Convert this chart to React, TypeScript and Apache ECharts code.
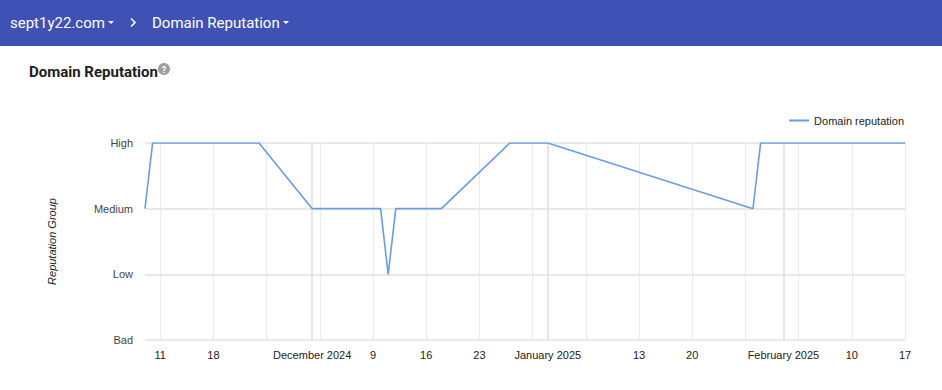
import React, { useEffect, useRef } from "react";
import * as echarts from "echarts";

const levelNames = ["Bad", "Low", "Medium", "High"];

const reputationDates = [
  "2024-11-09", "2024-11-10", "2024-11-24", "2024-12-01", "2024-12-10",
  "2024-12-11", "2024-12-12", "2024-12-18", "2024-12-27", "2025-01-01",
  "2025-01-28", "2025-01-29", "2025-02-17",
];
const reputationLevels = [
  "Medium", "High", "High", "Medium", "Medium",
  "Low", "Medium", "Medium", "High", "High",
  "Medium", "High", "High",
];

const axisStart = "2024-11-09";
const axisEnd = "2025-02-17";

const labelDates = [
  "2024-11-11", "2024-11-18", "2024-12-01", "2024-12-09", "2024-12-16",
  "2024-12-23", "2025-01-01", "2025-01-13", "2025-01-20", "2025-02-01",
  "2025-02-10", "2025-02-17",
];
const weekLineDates = [
  "2024-11-11", "2024-11-18", "2024-11-25", "2024-12-02", "2024-12-09",
  "2024-12-16", "2024-12-23", "2024-12-30", "2025-01-06", "2025-01-13",
  "2025-01-20", "2025-01-27", "2025-02-03", "2025-02-10", "2025-02-17",
];
const monthLineDates = ["2024-12-01", "2025-01-01", "2025-02-01"];

const monthNames = [
  "January", "February", "March", "April", "May", "June", "July",
  "August", "September", "October", "November", "December",
];

const toTime = (s: string) => {
  const [y, m, d] = s.split("-").map(Number);
  return Date.UTC(y, m - 1, d);
};

export default function App() {
  const ref = useRef<HTMLDivElement>(null);

  useEffect(() => {
    document.body.style.margin = "0";
    if (!ref.current) return;
    const chart = echarts.init(ref.current, null, { renderer: "svg" });
    const data = reputationDates.map((d, i) => [toTime(d), levelNames.indexOf(reputationLevels[i])]);
    const font = "Roboto, Arial, sans-serif";

    chart.setOption({
      animation: false,
      backgroundColor: "#ffffff",
      textStyle: { fontFamily: "Arial, 'Liberation Sans', sans-serif" },
      graphic: [
        { type: "rect", shape: { x: 0, y: 0, width: 942, height: 46 }, style: { fill: "#3f51b5" } },
        { type: "text", x: 10, y: 23, style: { text: "sept1y22.com", fill: "#ffffff", font: `15px ${font}`, verticalAlign: "middle" } },
        { type: "polygon", shape: { points: [[108, 21], [114, 21], [111, 24]] }, style: { fill: "#ffffff" } },
        { type: "polyline", shape: { points: [[131, 18.5], [135, 22.5], [131, 26.5]] }, style: { stroke: "#ffffff", lineWidth: 1.6, fill: null } },
        { type: "text", x: 152, y: 23, style: { text: "Domain Reputation", fill: "#ffffff", font: `15px ${font}`, verticalAlign: "middle" } },
        { type: "polygon", shape: { points: [[283, 21], [289, 21], [286, 24]] }, style: { fill: "#ffffff" } },
        { type: "text", x: 29, y: 72, style: { text: "Domain Reputation", fill: "#202020", font: `bold 15px ${font}`, verticalAlign: "middle" } },
        { type: "circle", shape: { cx: 164, cy: 69, r: 6 }, style: { fill: "#9e9e9e" } },
        { type: "text", x: 164, y: 69.5, style: { text: "?", fill: "#ffffff", font: `bold 9px ${font}`, align: "center", verticalAlign: "middle" } },
      ],
      legend: {
        right: 33,
        top: 110,
        icon: "rect",
        itemWidth: 20,
        itemHeight: 2,
        itemGap: 6,
        textStyle: { fontSize: 11, color: "#222222" },
        data: ["Domain reputation"],
      },
      grid: { left: 145, right: 37, top: 143, bottom: 50 },
      xAxis: [
        {
          type: "value",
          min: toTime(axisStart),
          max: toTime(axisEnd),
          axisLine: { show: false },
          axisTick: { show: false, customValues: weekLineDates.map(toTime) },
          splitLine: { show: true, lineStyle: { color: "#ebebeb", width: 1 } },
          axisLabel: {
            customValues: labelDates.map(toTime),
            color: "#222222",
            fontSize: 11,
            margin: 9,
            hideOverlap: false,
            formatter: (v: number) => {
              const d = new Date(v);
              if (d.getUTCDate() === 1) return `${monthNames[d.getUTCMonth()]} ${d.getUTCFullYear()}`;
              return String(d.getUTCDate());
            },
          },
        },
        {
          type: "value",
          min: toTime(axisStart),
          max: toTime(axisEnd),
          position: "bottom",
          axisLine: { show: false },
          axisTick: { show: false, customValues: monthLineDates.map(toTime) },
          axisLabel: { show: false, customValues: monthLineDates.map(toTime) },
          splitLine: { show: true, lineStyle: { color: "#dedede", width: 1.5 } },
        },
      ],
      yAxis: {
        type: "value",
        min: 0,
        max: 3,
        interval: 1,
        name: "Reputation Group",
        nameLocation: "middle",
        nameRotate: 90,
        nameGap: 88,
        nameTextStyle: { fontStyle: "italic", fontSize: 11, color: "#222222" },
        axisLine: { show: false },
        axisTick: { show: false },
        axisLabel: {
          color: "#444444",
          fontSize: 11,
          margin: 12,
          formatter: (v: number) => levelNames[v] ?? "",
        },
        splitLine: { lineStyle: { color: "#e2e2e2", width: 1.5 } },
      },
      series: [
        {
          name: "Domain reputation",
          type: "line",
          data,
          showSymbol: false,
          symbol: "none",
          lineStyle: { color: "#6b9be6", width: 1.6 },
          itemStyle: { color: "#6b9be6" },
          z: 5,
        },
      ],
    });

    return () => chart.dispose();
  }, []);

  return <div ref={ref} style={{ width: 942, height: 390 }} />;
}
